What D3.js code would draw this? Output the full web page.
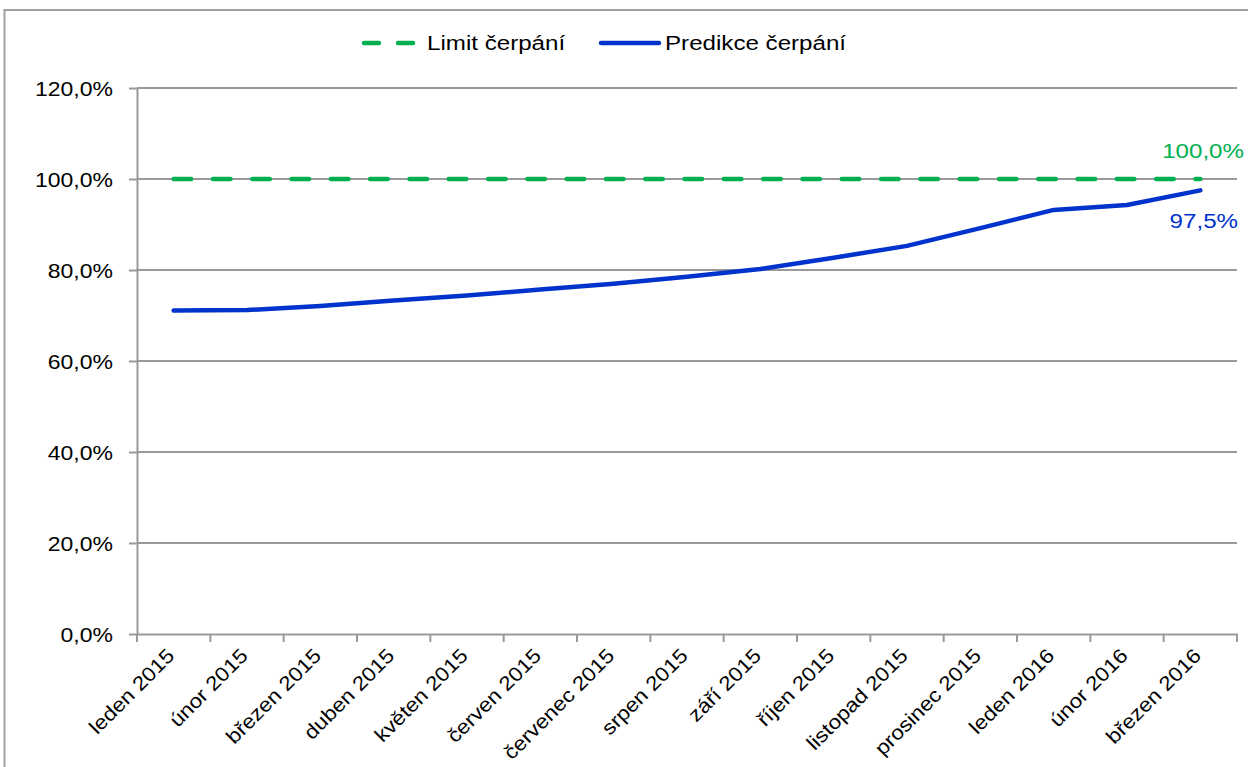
<!DOCTYPE html>
<html>
<head>
<meta charset="utf-8">
<script src="https://cdn.jsdelivr.net/npm/d3@7/dist/d3.min.js"></script>
<style>
  html, body { margin: 0; padding: 0; background: #fff; }
  svg { display: block; }
  text { font-family: "Liberation Sans", Arial, sans-serif; }
</style>
</head>
<body>
<svg id="chart" width="1248" height="767"></svg>
<script>
const categories = ["leden 2015", "únor 2015", "březen 2015", "duben 2015", "květen 2015",
  "červen 2015", "červenec 2015", "srpen 2015", "září 2015", "říjen 2015",
  "listopad 2015", "prosinec 2015", "leden 2016", "únor 2016", "březen 2016"];
const limitCerpani = [100, 100, 100, 100, 100, 100, 100, 100, 100, 100, 100, 100, 100, 100, 100];
const predikceCerpani = [71.1, 71.2, 72.1, 73.3, 74.4, 75.7, 77.0, 78.5, 80.2, 82.7, 85.3, 89.2, 93.2, 94.3, 97.5];
const yTicks = [0, 20, 40, 60, 80, 100, 120];
const seriesNames = ["Limit čerpání", "Predikce čerpání"];

const GREEN = "#00B050", BLUE = "#0033CC", GRAY = "#999999";
const SX = 1.12; // horizontal stretch of text as in reference

const loc = d3.formatLocale({decimal: ",", thousands: " ", grouping: [3], currency: ["", ""]});
const fmt = v => loc.format(".1f")(v) + "%";

const svg = d3.select("#chart");

// outer frame
svg.append("rect").attr("x", 4.5).attr("y", 10).attr("width", 1300).attr("height", 800)
  .attr("fill", "none").attr("stroke", "#a0a0a0").attr("stroke-width", 2);

const L = 137, R = 1237, T = 88, B = 634;
const x = d3.scaleBand().domain(categories).range([L, R]);
const y = d3.scaleLinear().domain([0, 120]).range([B, T]);
const cx = c => x(c) + x.bandwidth() / 2;

// grid lines
svg.append("g").selectAll("line").data(yTicks.filter(d => d > 0)).join("line")
  .attr("x1", L).attr("x2", R).attr("y1", d => y(d)).attr("y2", d => y(d))
  .attr("stroke", GRAY).attr("stroke-width", 2);

// y axis
const yAxis = svg.append("g").attr("transform", `translate(${L},0)`)
  .call(d3.axisLeft(y).tickValues(yTicks).tickSize(8).tickSizeOuter(0).tickFormat(fmt));
yAxis.select(".domain").attr("stroke", GRAY).attr("stroke-width", 2);
yAxis.selectAll(".tick line").attr("stroke", GRAY).attr("stroke-width", 2);
yAxis.selectAll(".tick text")
  .attr("x", -24 / 1.15).attr("dy", "0.35em").attr("transform", `scale(1.15,1)`)
  .attr("font-size", 20).attr("fill", "#000")
  .attr("font-family", "Liberation Sans, Arial, sans-serif");

// x axis
const xAxis = svg.append("g").attr("transform", `translate(0,${B})`)
  .call(d3.axisBottom(x).tickSize(0).tickSizeOuter(0));
xAxis.select(".domain").attr("stroke", GRAY).attr("stroke-width", 2);
xAxis.selectAll(".tick text")
  .attr("text-anchor", "end").attr("x", 0).attr("y", 0).attr("dy", 0)
  .attr("transform", `translate(2,23) rotate(-45) scale(${SX},1)`)
  .attr("font-size", 20).attr("fill", "#000")
  .attr("font-family", "Liberation Sans, Arial, sans-serif");
// x tick marks at category boundaries
const edges = categories.map(c => x(c)).concat([x(categories[categories.length - 1]) + x.bandwidth()]);
svg.append("g").selectAll("line").data(edges).join("line")
  .attr("x1", d => d).attr("x2", d => d).attr("y1", B).attr("y2", B + 8)
  .attr("stroke", GRAY).attr("stroke-width", 2);

// lines
const lineGen = d3.line().x((d, i) => cx(categories[i])).y(d => y(d));
svg.append("path").datum(limitCerpani).attr("d", lineGen)
  .attr("fill", "none").attr("stroke", GREEN).attr("stroke-width", 4.5)
  .attr("stroke-linecap", "round").attr("stroke-dasharray", "17.5 21.8");
svg.append("path").datum(predikceCerpani).attr("d", lineGen)
  .attr("fill", "none").attr("stroke", BLUE).attr("stroke-width", 4.5)
  .attr("stroke-linecap", "round").attr("stroke-linejoin", "round");

// data labels on last point
const last = categories.length - 1;
svg.append("text").attr("transform", `translate(${1244},${158}) scale(1.15,1)`)
  .attr("text-anchor", "end").attr("font-size", 21).attr("fill", GREEN)
  .text(fmt(limitCerpani[last]));
svg.append("text").attr("transform", `translate(${1238},${228}) scale(1.15,1)`)
  .attr("text-anchor", "end").attr("font-size", 21).attr("fill", BLUE)
  .text(fmt(predikceCerpani[last]));

// legend
const lg = svg.append("g");
lg.append("line").attr("x1", 364).attr("x2", 414).attr("y1", 43).attr("y2", 43)
  .attr("stroke", GREEN).attr("stroke-width", 4.5).attr("stroke-linecap", "round")
  .attr("stroke-dasharray", "15 19");
lg.append("text").attr("transform", `translate(427,50) scale(1.15,1)`)
  .attr("font-size", 21).attr("fill", "#000").text(seriesNames[0]);
lg.append("line").attr("x1", 601).attr("x2", 659).attr("y1", 43).attr("y2", 43)
  .attr("stroke", BLUE).attr("stroke-width", 4.5).attr("stroke-linecap", "round");
lg.append("text").attr("transform", `translate(665,50) scale(1.15,1)`)
  .attr("font-size", 21).attr("fill", "#000").text(seriesNames[1]);
</script>
</body>
</html>
